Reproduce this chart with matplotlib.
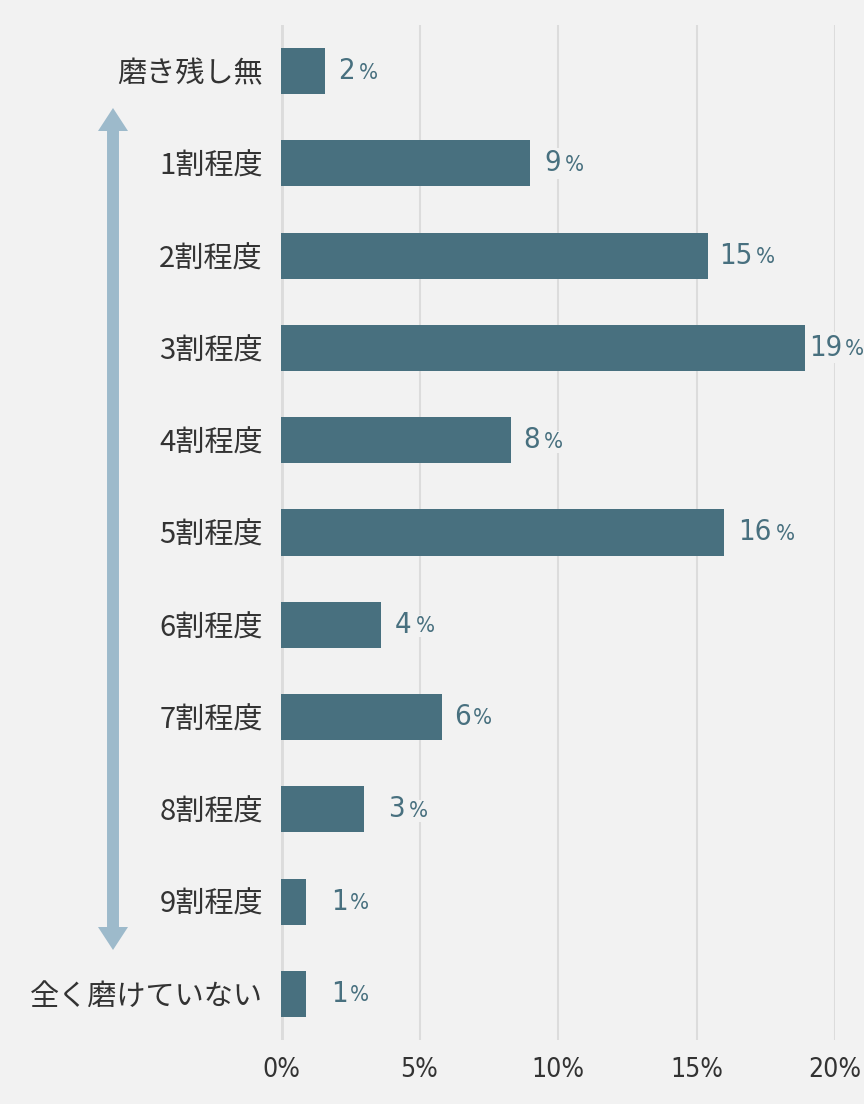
import matplotlib
matplotlib.use("Agg")
import matplotlib.pyplot as plt
from matplotlib.lines import Line2D
from matplotlib.patches import Polygon

plt.rcParams['font.family'] = ['Noto Sans CJK JP', 'DejaVu Sans']

# data
categories = ["磨き残し無", "1割程度", "2割程度", "3割程度", "4割程度", "5割程度",
              "6割程度", "7割程度", "8割程度", "9割程度", "全く磨けていない"]
values = [1.6, 9.0, 15.4, 18.9, 8.3, 16.0, 3.6, 5.8, 3.0, 0.9, 0.9]
value_labels = ["2", "9", "15", "19", "8", "16", "4", "6", "3", "1", "1"]
xticks = [0, 5, 10, 15, 20]

# label gap after bar end (points) and gap before "%"
label_gap = [9, 10, 8, 3.5, 9, 10, 10, 9, 17, 18, 18]
pct_gap = [3, 3, 3, 1.5, 3, 3, 3, 1.5, 3, 1.5, 1.5]

bg = "#f2f2f2"
bar_color = "#48707f"
text_color = "#333333"
arrow_color = "#9dbacb"
grid_color = "#dcdcdc"
num_font = dict(family=['DejaVu Sans'], fontstretch='condensed')

fig = plt.figure(figsize=(8.64, 11.04), dpi=100, facecolor=bg)
ax = fig.add_axes([281 / 864, 1 - 1040 / 1104, (835 - 281) / 864, (1040 - 25) / 1104])
ax.set_facecolor(bg)

y = list(range(len(categories)))
ax.barh(y, values, height=0.5, color=bar_color, zorder=3)
ax.set_xlim(0, 20)
ax.set_ylim(len(categories) - 0.5, -0.5)

for v in xticks:
    ax.axvline(v, color=grid_color, lw=1.5 if v else 3.5, zorder=1)

ax.set_yticks(y)
ax.set_yticklabels(categories, fontsize=21, color=text_color)
ax.set_xticks(xticks)
ax.set_xticklabels([f"{v}%" for v in xticks], fontsize=19, color=text_color, **num_font)
ax.tick_params(axis='both', length=0)
ax.tick_params(axis='y', pad=13)
ax.tick_params(axis='x', pad=12)
for s in ax.spines.values():
    s.set_visible(False)

for i, (v, lab) in enumerate(zip(values, value_labels)):
    t = ax.annotate(lab, xy=(v, i), xytext=(label_gap[i], 0), textcoords='offset points',
                    ha='left', va='center', fontsize=21, color=bar_color, zorder=4,
                    bbox=dict(boxstyle='square,pad=0.05', fc=bg, ec='none'), **num_font)
    ax.annotate("%", xy=(1, 0.5), xycoords=t, xytext=(pct_gap[i], -1), textcoords='offset points',
                ha='left', va='center', fontsize=16, color=bar_color, zorder=4,
                bbox=dict(boxstyle='square,pad=0.05', fc=bg, ec='none'), **num_font)

# double-headed arrow on the left (figure pixel coords)
W, H = 864, 1104
ax_x, top, bot, head_len, head_half = 113, 108, 950, 23, 15
fig.add_artist(Line2D([ax_x / W, ax_x / W], [1 - (top + head_len) / H, 1 - (bot - head_len) / H],
                      transform=fig.transFigure, color=arrow_color, lw=8.6, solid_capstyle='butt'))
for tip, base in [(top, top + head_len), (bot, bot - head_len)]:
    fig.add_artist(Polygon([[ax_x / W, 1 - tip / H],
                            [(ax_x - head_half) / W, 1 - base / H],
                            [(ax_x + head_half) / W, 1 - base / H]],
                           closed=True, transform=fig.transFigure, fc=arrow_color, ec='none'))

fig.savefig("out.png", dpi=100, facecolor=bg)
